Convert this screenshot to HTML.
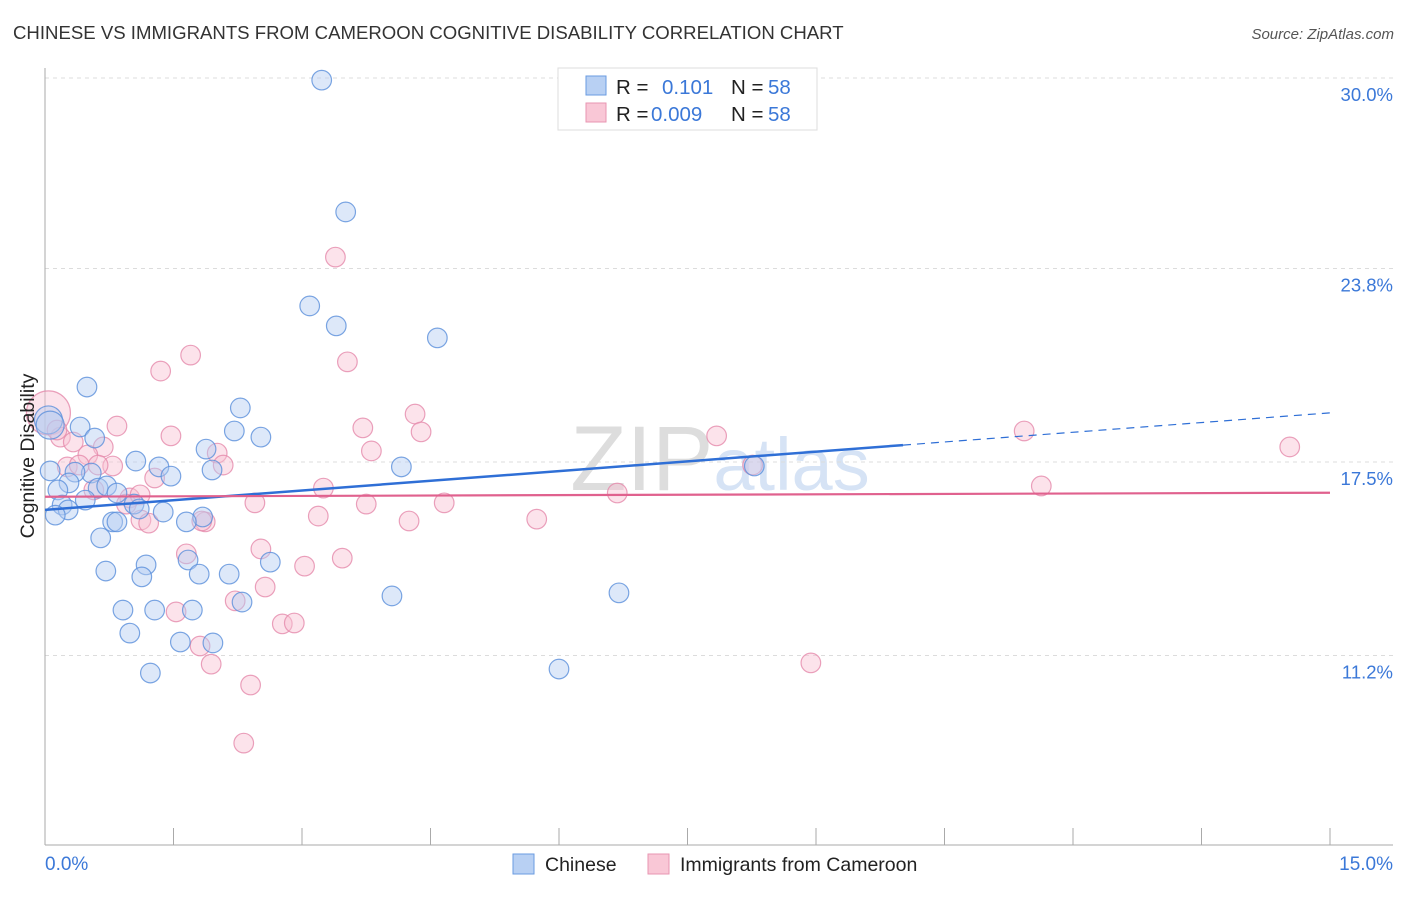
<!DOCTYPE html>
<html><head><meta charset="utf-8"><style>
body{margin:0;background:#fff;font-family:"Liberation Sans",sans-serif;}
svg text{font-family:"Liberation Sans",sans-serif;}
</style></head><body>
<svg id="chart" width="1406" height="892">
<text x="13" y="39" font-size="18.6" fill="#333">CHINESE VS IMMIGRANTS FROM CAMEROON COGNITIVE DISABILITY CORRELATION CHART</text>
<text x="1394" y="39" font-size="15" fill="#555" font-style="italic" text-anchor="end">Source: ZipAtlas.com</text>
<text x="720" y="490" font-size="92" fill="#e6e6e6" text-anchor="middle" font-family="Liberation Serif"><tspan fill="#dddddd">ZIP</tspan><tspan fill="#d6e3f5" font-family="Liberation Sans" font-size="74">atlas</tspan></text>
<g id="grid"></g>
<g id="axes"></g>
<g id="pts"></g>
<g id="trends"></g>
<text transform="translate(34,456) rotate(-90)" font-size="19.5" fill="#222" text-anchor="middle">Cognitive Disability</text>
<text x="45" y="870" font-size="19" fill="#3b78d8">0.0%</text>
<text x="1393" y="870" font-size="19" fill="#3b78d8" text-anchor="end">15.0%</text>
<g>
<rect x="558" y="68" width="259" height="62" fill="#fff" stroke="#ddd"/>
<rect x="586" y="76" width="20" height="19" fill="#b8d0f3" stroke="#6a9be0"/>
<rect x="586" y="103" width="20" height="19" fill="#f9c7d6" stroke="#e896b2"/>
<text x="616" y="94" font-size="20.5" fill="#222">R = </text><text x="662" y="94" font-size="20.5" fill="#3b78d8">0.101</text>
<text x="731" y="94" font-size="20.5" fill="#222">N = </text><text x="768" y="94" font-size="20.5" fill="#3b78d8">58</text>
<text x="616" y="121" font-size="20.5" fill="#222">R = </text><text x="651" y="121" font-size="20.5" fill="#3b78d8">0.009</text>
<text x="731" y="121" font-size="20.5" fill="#222">N = </text><text x="768" y="121" font-size="20.5" fill="#3b78d8">58</text>
</g>
<g>
<rect x="513" y="854" width="21" height="20" fill="#b8d0f3" stroke="#6a9be0"/>
<text x="545" y="871" font-size="19.5" fill="#222">Chinese</text>
<rect x="648" y="854" width="21" height="20" fill="#f9c7d6" stroke="#e896b2"/>
<text x="680" y="871" font-size="19.5" fill="#222">Immigrants from Cameroon</text>
</g>
</svg>
<script>
const yTicks=[30.0,23.8,17.5,11.2];
const yTickLabels=["30.0%","23.8%","17.5%","11.2%"];
const chineseX=[3.23,3.51,3.09,3.40,4.58,0.49,2.28,0.41,2.21,2.52,0.58,1.88,0.04,0.06,1.06,1.33,1.47,1.95,4.16,8.28,0.54,0.35,0.28,0.62,0.72,0.84,0.15,0.47,0.20,0.27,0.12,1.04,1.10,1.38,1.84,0.79,0.84,1.65,0.65,2.63,1.18,1.67,0.71,1.13,1.80,2.15,4.05,6.70,0.91,1.28,1.72,2.30,0.99,1.58,1.96,1.23,6.00,0.06];
const chineseY=[29.93,25.64,22.58,21.93,21.54,19.94,19.26,18.64,18.51,18.31,18.28,17.92,18.87,17.21,17.53,17.34,17.04,17.24,17.34,17.37,17.14,17.17,16.82,16.65,16.72,16.49,16.59,16.26,16.10,15.94,15.77,16.13,15.97,15.87,15.71,15.55,15.55,15.55,15.03,14.24,14.15,14.31,13.95,13.76,13.85,13.85,13.14,13.24,12.68,12.68,12.68,12.94,11.93,11.64,11.61,10.63,10.76,18.70];
const cameroonX=[3.39,1.70,3.53,1.35,0.04,4.32,3.71,4.39,7.84,11.43,14.53,0.84,1.47,0.18,0.33,0.68,0.50,2.01,3.81,0.26,0.40,0.79,2.08,1.28,0.57,3.25,6.68,11.63,0.99,0.95,2.45,3.75,4.66,1.12,1.21,1.87,3.19,4.25,5.74,1.65,2.52,3.47,3.03,2.57,1.53,2.22,2.77,2.91,1.81,1.94,2.40,8.94,2.32,8.26,1.83,0.14,1.11,0.62];
const cameroonY=[24.17,20.98,20.76,20.46,19.10,19.06,18.61,18.48,18.35,18.51,17.99,18.67,18.35,18.31,18.15,17.99,17.73,17.79,17.86,17.34,17.40,17.37,17.40,16.98,16.59,16.65,16.49,16.72,16.33,16.13,16.17,16.13,16.17,15.61,15.51,15.55,15.74,15.58,15.64,14.51,14.67,14.37,14.11,13.43,12.62,12.98,12.23,12.26,11.51,10.92,10.24,10.96,8.35,17.40,15.58,18.54,16.43,17.40];
const chineseTrend=[15.94,18.05];
const cameroonTrend=[16.37,16.50];
const X0=45,X1=1330;
function xs(v){return X0+(v/15)*(X1-X0);}
function ys(v){return 462-(v-17.5)*192/6.25;}
const NS="http://www.w3.org/2000/svg";
function mk(t,a,p){const e=document.createElementNS(NS,t);for(const k in a)e.setAttribute(k,a[k]);p.appendChild(e);return e;}
const grid=document.getElementById('grid'),axes=document.getElementById('axes'),pts=document.getElementById('pts'),tr=document.getElementById('trends');
yTicks.forEach((v,i)=>{
 const l=mk('line',{x1:45,x2:1393,y1:ys(v),y2:ys(v),stroke:'#dcdcdc','stroke-dasharray':'4,4'},grid);
 
 
 const t=mk('text',{x:1393,y:ys(v)+23,'font-size':18.5,fill:'#3b78d8','text-anchor':'end'},grid);
 t.textContent=yTickLabels[i];
 
 
});
const ax=mk('line',{x1:45,x2:45,y1:68,y2:845,stroke:'#aaa'},axes);


const bx=mk('line',{x1:45,x2:1393,y1:845,y2:845,stroke:'#aaa'},axes);


for(let i=0;i<=10;i++){
 const t=mk('line',{x1:xs(i*1.5),x2:xs(i*1.5),y1:828,y2:845,stroke:'#aaa'},axes);
 
 
}
function dots(X,Y,fill,stroke,name){
 X.forEach((x,i)=>{
  const big=(x<0.1&&Y[i]>18.6);
  const c=mk('circle',{cx:xs(x),cy:ys(Y[i]),r:big?(name==='cameroon-point'?22:14):9.8,fill:fill,'fill-opacity':0.45,stroke:stroke,'stroke-opacity':0.8,'stroke-width':1.2},pts);
  
  
 });
}
dots(cameroonX,cameroonY,'#f9c0d2','#e58aab','cameroon-point');
dots(chineseX,chineseY,'#b3cdf2','#5a8fdb','chinese-point');
const xEnd=15*(903-45)/1285;
const slope=(chineseTrend[1]-chineseTrend[0])/xEnd;
const l1=mk('line',{x1:xs(0),y1:ys(chineseTrend[0]),x2:xs(xEnd),y2:ys(chineseTrend[1]),stroke:'#2f6fd6','stroke-width':2.5},tr);


const l2=mk('line',{x1:xs(xEnd),y1:ys(chineseTrend[1]),x2:xs(15),y2:ys(chineseTrend[0]+slope*15),stroke:'#2f6fd6','stroke-width':1.2,'stroke-dasharray':'8,6'},tr);


const l3=mk('line',{x1:xs(0),y1:ys(cameroonTrend[0]),x2:xs(15),y2:ys(cameroonTrend[1]),stroke:'#e0618e','stroke-width':2.2},tr);


</script>
</body></html>
